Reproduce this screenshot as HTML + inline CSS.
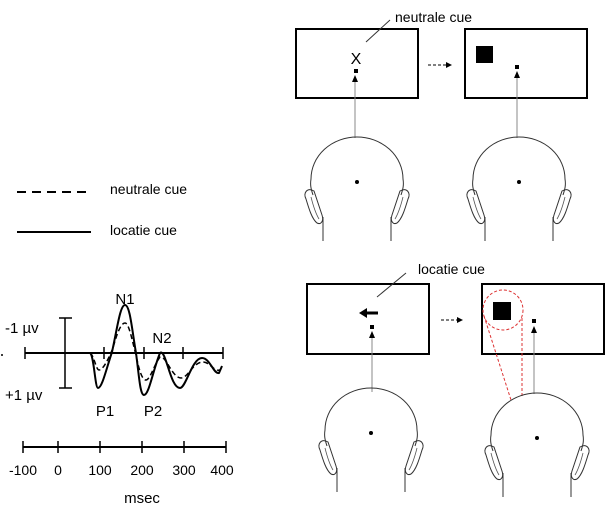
<!DOCTYPE html>
<html><head><style>
html,body{margin:0;padding:0;background:#fff;overflow:hidden;}
svg{display:block;font-family:"Liberation Sans",Arial,sans-serif;}
</style></head><body>
<svg width="605" height="512" viewBox="0 0 605 512" xmlns="http://www.w3.org/2000/svg">
<defs>
<g id="head">
<path d="M-44,56 C-46,50 -47,46 -46,40 A46,42 0 0 1 46,40 C47,46 46,50 44,56" fill="none" stroke="#333" stroke-width="1"/>
<circle cx="0" cy="43" r="2" fill="#000"/>
<path d="M-43,52 C-50,48 -54,54 -51,60 C-48,70 -45,80 -40,84 C-36,86 -33,82 -35,76 Z" fill="none" stroke="#333" stroke-width="1"/>
<path d="M-46,58 C-44,66 -41,75 -38,80" fill="none" stroke="#555" stroke-width="0.8"/>
<path d="M43,52 C50,48 54,54 51,60 C48,70 45,80 40,84 C36,86 33,82 35,76 Z" fill="none" stroke="#333" stroke-width="1"/>
<path d="M46,58 C44,66 41,75 38,80" fill="none" stroke="#555" stroke-width="0.8"/>
<line x1="-34" y1="78" x2="-34" y2="102" stroke="#333"/>
<line x1="34" y1="78" x2="34" y2="102" stroke="#333"/>
</g>
</defs>

<!-- legend -->
<line x1="17" y1="192" x2="91" y2="192" stroke="#000" stroke-width="2" stroke-dasharray="9,6"/>
<text x="110" y="194" font-size="14">neutrale cue</text>
<line x1="17" y1="232" x2="91" y2="232" stroke="#000" stroke-width="2"/>
<text x="110" y="235" font-size="14">locatie cue</text>

<!-- ERP -->
<line x1="25" y1="353" x2="223" y2="353" stroke="#000" stroke-width="2"/>
<g stroke="#000" stroke-width="1.5">
<line x1="25" y1="347" x2="25" y2="359"/><line x1="104" y1="347" x2="104" y2="359"/>
<line x1="144" y1="347" x2="144" y2="359"/><line x1="183" y1="347" x2="183" y2="359"/>
<line x1="223" y1="347" x2="223" y2="359"/>
<line x1="65" y1="318" x2="65" y2="388"/><line x1="59" y1="318" x2="72" y2="318"/><line x1="59" y1="388" x2="72" y2="388"/>
</g>
<path d="M25,353 L90,353 C94,355 95,388 98,388 C102,388 106,370 112,352 C117,330 120,305 125,305 C130,305 132,330 136,353 C139,375 140,395 144,395 C149,395 153,370 160,353 C166,348 170,388 180,388 C186,388 192,358 202,358 C210,358 214,375 219,373 L222,366" fill="none" stroke="#000" stroke-width="2"/>
<path d="M90,353 C94,355 96,370 99,370 C103,370 108,360 113,348 C117,333 121,323 125,323 C129,323 132,340 136,355 C139,370 142,380 146,380 C150,380 154,365 160,357 C166,355 172,378 181,378 C188,378 193,362 203,362 C210,362 214,372 220,370" fill="none" stroke="#000" stroke-width="1.5" stroke-dasharray="5,3"/>
<circle cx="2" cy="355" r="1" fill="#000"/>
<g font-size="15">
<text x="5" y="333">-1 µv</text>
<text x="5" y="400">+1 µv</text>
<text x="125" y="304" text-anchor="middle">N1</text>
<text x="162" y="343" text-anchor="middle">N2</text>
<text x="105" y="416" text-anchor="middle">P1</text>
<text x="153" y="416" text-anchor="middle">P2</text>
</g>

<!-- time axis -->
<line x1="23" y1="447" x2="226" y2="447" stroke="#000" stroke-width="2"/>
<g stroke="#000" stroke-width="1.5">
<line x1="23" y1="441" x2="23" y2="453"/><line x1="58" y1="441" x2="58" y2="453"/>
<line x1="100" y1="441" x2="100" y2="453"/><line x1="142" y1="441" x2="142" y2="453"/>
<line x1="184" y1="441" x2="184" y2="453"/><line x1="226" y1="441" x2="226" y2="453"/>
</g>
<g font-size="14" text-anchor="middle">
<text x="23" y="475">-100</text><text x="58" y="475">0</text><text x="100" y="475">100</text>
<text x="142" y="475">200</text><text x="184" y="475">300</text><text x="222" y="475">400</text>
<text x="142" y="503" font-size="15">msec</text>
</g>

<!-- top row -->
<rect x="296" y="29" width="122" height="69" fill="none" stroke="#000" stroke-width="2"/>
<rect x="465" y="29" width="122" height="69" fill="none" stroke="#000" stroke-width="2"/>
<text x="395" y="22" font-size="14">neutrale cue</text>
<line x1="390" y1="20" x2="366" y2="42" stroke="#333"/>
<text x="356" y="64" font-size="16" text-anchor="middle">X</text>
<rect x="354" y="69" width="4" height="4" fill="#000"/>
<line x1="355" y1="138" x2="355" y2="80" stroke="#888" stroke-width="1"/>
<path d="M352,82 L355,75 L358,82 z" fill="#000"/>
<line x1="428" y1="65" x2="446" y2="65" stroke="#000" stroke-dasharray="3,2"/>
<path d="M446,62 L452,65 L446,68 z" fill="#000"/>
<rect x="476" y="46" width="17" height="17" fill="#000"/>
<rect x="515" y="65" width="4" height="4" fill="#000"/>
<line x1="517" y1="138" x2="517" y2="76" stroke="#888"/>
<path d="M514,78 L517,71 L520,78 z" fill="#000"/>
<use href="#head" x="357" y="139"/>
<use href="#head" x="519" y="139"/>

<!-- bottom row -->
<rect x="307" y="284" width="122" height="70" fill="none" stroke="#000" stroke-width="2"/>
<rect x="482" y="284" width="122" height="70" fill="none" stroke="#000" stroke-width="2"/>
<text x="418" y="274" font-size="14">locatie cue</text>
<line x1="406" y1="273" x2="377" y2="297" stroke="#333"/>
<line x1="366" y1="313" x2="378" y2="313" stroke="#000" stroke-width="3"/>
<path d="M367,308 L359,313 L367,318 z" fill="#000"/>
<rect x="370" y="325" width="4" height="4" fill="#000"/>
<line x1="372" y1="392" x2="372" y2="336" stroke="#888"/>
<path d="M369,338 L372,331 L375,338 z" fill="#000"/>
<line x1="441" y1="320" x2="457" y2="320" stroke="#000" stroke-dasharray="3,2"/>
<path d="M457,317 L463,320 L457,323 z" fill="#000"/>
<rect x="493" y="302" width="18" height="18" fill="#000"/>
<rect x="532" y="319" width="4" height="4" fill="#000"/>
<line x1="534" y1="394" x2="534" y2="331" stroke="#888"/>
<path d="M531,333 L534,326 L537,333 z" fill="#000"/>
<circle cx="503" cy="310" r="20" fill="none" stroke="#d33" stroke-width="1" stroke-dasharray="3,2"/>
<line x1="484" y1="316" x2="511" y2="400" stroke="#d33" stroke-dasharray="3,2"/>
<line x1="522" y1="318" x2="522" y2="397" stroke="#d33" stroke-dasharray="3,2"/>
<use href="#head" x="371" y="390"/>
<use href="#head" x="537" y="395"/>
</svg>
</body></html>
